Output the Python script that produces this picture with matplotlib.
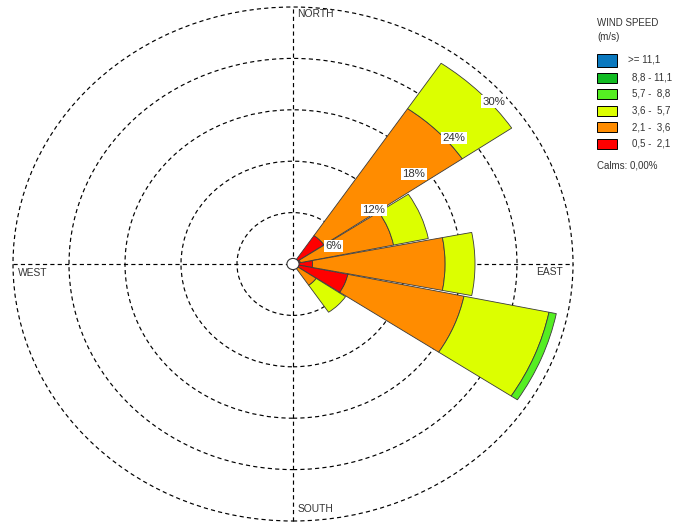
import matplotlib
matplotlib.use("Agg")
import matplotlib.pyplot as plt
import numpy as np
from matplotlib.patches import Wedge, Circle, Rectangle

plt.rcParams['font.family'] = ['Liberation Sans', 'DejaVu Sans']
plt.rcParams['lines.scale_dashes'] = False

# 16 compass sectors, azimuth in degrees clockwise from north
directions = ['N', 'NNE', 'NE', 'ENE', 'E', 'ESE', 'SE', 'SSE',
              'S', 'SSW', 'SW', 'WSW', 'W', 'WNW', 'NW', 'NNW']
azimuths = np.arange(16) * 22.5

# frequency (%) per speed class and sector
speed_05_21 = [0, 0, 4.0, 0.8, 2.1, 6.0, 0.3, 0, 0, 0, 0, 0, 0, 0, 0, 0]
speed_21_36 = [0, 0, 17.9, 10.2, 14.2, 12.7, 2.7, 0, 0, 0, 0, 0, 0, 0, 0, 0]
speed_36_57 = [0, 0, 6.4, 3.8, 3.2, 9.3, 3.8, 0, 0, 0, 0, 0, 0, 0, 0, 0]
speed_57_88 = [0, 0, 0, 0, 0, 0.8, 0, 0, 0, 0, 0, 0, 0, 0, 0, 0]
speed_88_111 = [0] * 16
speed_111 = [0] * 16

series = [speed_05_21, speed_21_36, speed_36_57, speed_57_88, speed_88_111, speed_111]
colors = ['#ff0000', '#ff8c00', '#dcff00', '#55ee22', '#11bb22', '#0a78be']
legend_labels = ['0,5 -  2,1', '2,1 -  3,6', '3,6 -  5,7', '5,7 -  8,8', '8,8 - 11,1', '>= 11,1']
rings = [6, 12, 18, 24, 30]
calms = 0.0

W, H = 675, 522
fig = plt.figure(figsize=(W / 100, H / 100), dpi=100)

# rose axes: centre at (293, 264) px, 30% -> 280 px horizontally, 257 px vertically
cx, cy, rx, ry = 293, 264, 280, 257
ax = fig.add_axes([(cx - rx) / W, (H - cy - ry) / H, 2 * rx / W, 2 * ry / H])
ax.set_xlim(-30, 30)
ax.set_ylim(-30, 30)
ax.axis('off')

dash = (0, (3, 2.3))
for r in rings:
    ax.add_patch(Circle((0, 0), r, fill=False, ec='black', lw=0.85, ls=dash,
                        clip_on=False, zorder=1))
ax.plot([0, 0], [-30, 30], color='black', lw=0.85, ls=dash, clip_on=False, zorder=1)
ax.plot([-30, 30], [0, 0], color='black', lw=0.85, ls=dash, clip_on=False, zorder=1)

half = 10.9
base = np.zeros(16)
for vals, col in zip(series, colors):
    vals = np.array(vals, dtype=float)
    for az, b, v in zip(azimuths, base, vals):
        if v <= 0:
            continue
        t1, t2 = 90 - az - half, 90 - az + half
        ax.add_patch(Wedge((0, 0), b + v, t1, t2, width=v, fc=col, ec='#3a3a3a',
                           lw=0.6, zorder=3))
    base = base + vals

ax.add_patch(Circle((0, 0), 0.65, fc='white', ec='#333333', lw=0.8, zorder=5))

# ring labels
for r in rings:
    a = np.radians(45.5)
    ax.text(r * np.sin(a) + 0.1, r * np.cos(a) - 2.1, f'{r}%', fontsize=8.2,
            color='#333333', ha='center', va='center', zorder=6,
            bbox=dict(boxstyle='square,pad=0.12', fc='white', ec='none'))

tc = '#333333'
ax.text(0.45, 29.2, 'NORTH', fontsize=7.4, color=tc, ha='left', va='center', zorder=6)
ax.text(0.45, -28.6, 'SOUTH', fontsize=7.4, color=tc, ha='left', va='center', zorder=6)
ax.text(-29.5, -1.0, 'WEST', fontsize=7.4, color=tc, ha='left', va='center', zorder=6)
ax.text(28.9, -0.95, 'EAST', fontsize=7.4, color=tc, ha='right', va='center', zorder=6)

# legend in pixel coordinates
lax = fig.add_axes([0, 0, 1, 1])
lax.set_xlim(0, W)
lax.set_ylim(H, 0)
lax.axis('off')
lax.patch.set_alpha(0)

lax.text(597, 23, 'WIND SPEED', fontsize=7.0, color=tc, ha='left', va='center')
lax.text(597, 37, '(m/s)', fontsize=7.0, color=tc, ha='left', va='center')
ys = [60, 77.5, 94, 110.5, 127, 143.5]
for i, (lab, col) in enumerate(zip(legend_labels[::-1], colors[::-1])):
    y = ys[i]
    h = 13 if i == 0 else 10
    lax.add_patch(Rectangle((597, y - h / 2), 20, h, fc=col, ec='black', lw=0.7))
    lax.text(628 if i == 0 else 632, y, lab, fontsize=7.0, color=tc, ha='left', va='center')
lax.text(597, 165, 'Calms: ' + f'{calms:.2f}'.replace('.', ',') + '%', fontsize=7.0,
         color=tc, ha='left', va='center')

fig.savefig('out.png', dpi=100)
